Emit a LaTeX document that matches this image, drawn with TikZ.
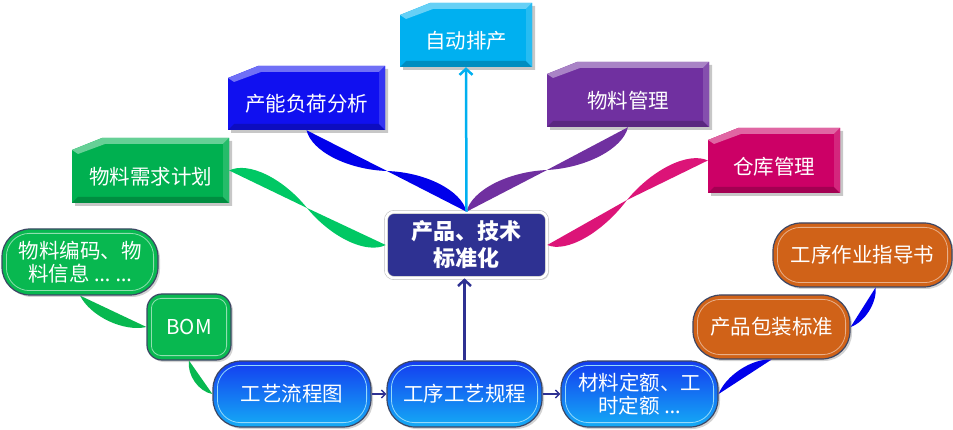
\documentclass[tikz,border=0pt]{standalone}
\usepackage{fontspec}
\setmainfont{Noto Sans CJK SC}
\newfontfamily\lat{Noto Sans}
\usetikzlibrary{calc,arrows.meta,shadows}
\definecolor{cCyan}{RGB}{0,176,240}
\definecolor{cBlue}{RGB}{16,16,240}
\definecolor{cGreen}{RGB}{0,176,80}
\definecolor{cPurple}{RGB}{112,48,160}
\definecolor{cMag}{RGB}{204,0,102}
\definecolor{cNavy}{RGB}{46,49,146}
\definecolor{cOrange}{RGB}{208,98,24}
\definecolor{cCapG}{RGB}{8,184,80}
\definecolor{cTop}{RGB}{20,60,240}
\definecolor{cBot}{RGB}{20,172,245}
\definecolor{cEdge}{RGB}{60,70,100}
\definecolor{rBlue}{RGB}{0,0,235}
\definecolor{rGreen}{RGB}{0,200,100}
\definecolor{rMag}{RGB}{220,20,120}
\newcommand\chamb[7]{%
 \fill[black,opacity=0.22] (#2+3,#3+15) -- (#2+33,#3+3) -- (#4+3,#3+3) -- (#4+3,#5+3) -- (#2+3,#5+3) -- cycle;
 \fill[#6] (#2,#3+12) -- (#2+30,#3) -- (#4,#3) -- (#4,#5) -- (#2,#5) -- cycle;
 \fill[#6!60!white] (#2,#3+12) -- (#2+30,#3) -- (#4,#3) -- (#4-6,#3+6) -- (#2+33,#3+6) -- (#2+6,#3+16) -- cycle;
 \fill[#6!80!black] (#2,#5) -- (#4,#5) -- (#4-6,#5-6) -- (#2+6,#5-6) -- cycle;
 \fill[#6!85!white] (#4,#3) -- (#4,#5) -- (#4-6,#5-6) -- (#4-6,#3+6) -- cycle;
 \node[inner sep=0pt, minimum width={#4-#2}, minimum height={#5-#3}] (#1) at ({(#2+#4)/2},{(#3+#5)/2}) {};
 \node[lbl] at ($(#1.center)+(0,6)$) {#7};
}
% twisted ribbon: colour, start, twist point, end, bulge offset
\newcommand\twist[5]{%
 \fill[#1] (#2) -- (#3) .. controls ($(#2)!0.6!(#3)+(#5)$) and ($(#2)!0.15!(#3)+(#5)$) .. (#2) -- cycle;
 \fill[#1] (#3) -- (#4) .. controls ($(#3)!0.85!(#4)-(#5)$) and ($(#3)!0.4!(#4)-(#5)$) .. (#3) -- cycle;}
% leaf: colour, start, end, bulge offset
\newcommand\leaf[4]{\fill[#1] (#2) -- (#3) .. controls ($(#2)!0.75!(#3)+(#4)$) and ($(#2)!0.25!(#3)+(#4)$) .. (#2) -- cycle;}
\newcommand\innerline[3]{\draw[#2, line width=0.8pt, rounded corners=#3] ([xshift=5pt,yshift=-5pt]#1.north west) rectangle ([xshift=-5pt,yshift=5pt]#1.south east);}
\begin{document}
\begin{tikzpicture}[x=1pt,y=-1pt,
  lbl/.style={text=white, font=\fontsize{20.5}{24}\selectfont, align=center, inner sep=0pt},
  capsule/.style={draw=cEdge, line width=1.2pt, text=white, font=\fontsize{20.5}{23.5}\selectfont, align=center, inner sep=0pt, drop shadow={opacity=0.35,shadow xshift=2pt,shadow yshift=-2pt}},
  bluecap/.style={capsule, top color=cTop, bottom color=cBot, rounded corners=28pt, minimum width=#1, minimum height=66pt},
  arr/.style={line width=2.5pt, -{Straight Barb[length=6pt,width=13pt]}},
  sarr/.style={cNavy, line width=1.4pt, -{Straight Barb[length=4pt,width=8pt]}}]
\useasboundingbox (0,0) rectangle (953,430);
% chamfered boxes
\chamb{auto}{400}{3}{532}{67}{cCyan}{自动排产}
\chamb{cap}{228}{66}{385}{130}{cBlue}{产能负荷分析}
\chamb{mrp}{72}{138}{229}{203}{cGreen}{物料需求计划}
\chamb{mat}{547}{62}{709}{127}{cPurple}{物料管理}
\chamb{wh}{708}{128}{840}{193}{cMag}{仓库管理}
% centre
\node[draw=black!25, line width=0.6pt, double=white, double distance=2.6pt, fill=cNavy, rounded corners=8pt,
  minimum width=161pt, minimum height=66pt, text=white, font=\bfseries\fontsize{22}{27}\selectfont, align=center,
  inner sep=0pt, drop shadow={opacity=0.3,shadow xshift=2pt,shadow yshift=-2pt}] (ctr) at (466.5,245) {产品、技术\\标准化};
% capsules
\node[capsule, fill=cCapG, rounded corners=28pt, minimum width=156pt, minimum height=66pt] (code) at (80,262) {物料编码、物\\料信息 {\lat… …}};
\innerline{code}{cCapG!45!white}{23pt}
\node[capsule, fill=cCapG, rounded corners=15pt, minimum width=84pt, minimum height=66pt] (bom) at (189,327) {BOM};
\innerline{bom}{cCapG!45!white}{10pt}
\node[bluecap=158pt] (flow) at (292,394) {工艺流程图};
\innerline{flow}{white!55!cBot}{23pt}
\node[bluecap=155pt] (proc) at (464.5,394) {工序工艺规程};
\innerline{proc}{white!55!cBot}{23pt}
\node[bluecap=157pt] (quota) at (639.5,394) {材料定额、工\\时定额 {\lat…}};
\innerline{quota}{white!55!cBot}{23pt}
\node[capsule, fill=cOrange, rounded corners=28pt, minimum width=157pt, minimum height=64pt] (pack) at (771.5,327) {产品包装标准};
\innerline{pack}{cOrange!50!white}{23pt}
\node[capsule, fill=cOrange, rounded corners=28pt, minimum width=179pt, minimum height=64pt] (sop) at (862.5,255) {工序作业指导书};
\innerline{sop}{cOrange!50!white}{23pt}
% twist points
\coordinate (mCap) at (387,171);
\coordinate (mMat) at (547,170);
\coordinate (mMrp) at (307,208);
\coordinate (mWh) at (627,200);
\coordinate (sopIn) at ($(sop.south)+(13,0)$);
% twisted ribbons
\twist{rBlue}{cap.south}{mCap}{ctr.north}{-7,15}
\twist{cPurple}{mat.south}{mMat}{ctr.north}{7,15}
\twist{rGreen}{mrp.east}{mMrp}{ctr.west}{7,-15}
\twist{rMag}{wh.west}{mWh}{ctr.east}{-7,-15}
% leaves
\leaf{cCapG}{code.south}{bom.west}{-6,13}
\leaf{cCapG}{bom.south}{flow.west}{-8,6}
\leaf{rBlue}{quota.east}{pack.south}{-6,-10}
\leaf{rBlue}{pack.east}{sopIn}{8,5}
% arrows
\draw[arr, cCyan] (ctr.north) -- (auto.south);
\draw[arr, cNavy] (proc.north) -- (proc.north |- ctr.south);
\draw[sarr] (flow.east) -- (proc.west);
\draw[sarr] (proc.east) -- (quota.west);
\end{tikzpicture}
\end{document}
